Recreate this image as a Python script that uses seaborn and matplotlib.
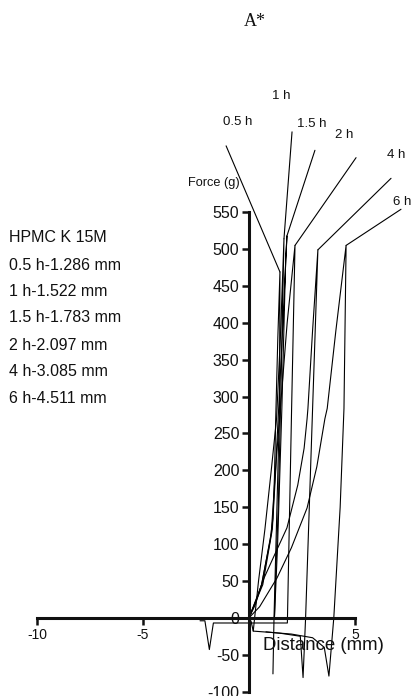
import matplotlib
matplotlib.use('Agg')
import matplotlib.pyplot as plt
import seaborn as sns

# Force (g) vs distance (mm) traces
curve_names = ['0.5 h', '1 h', '1.5 h', '2 h', '4 h', '6 h']
legend_title = 'HPMC K 15M'
legend_lines = ['0.5 h-1.286 mm', '1 h-1.522 mm', '1.5 h-1.783 mm',
                '2 h-2.097 mm', '4 h-3.085 mm', '6 h-4.511 mm']

# full path of each trace: rise to peak, then drop and return
x_05 = [0, 0.3, 0.59, 1.0, 1.13, 1.2, 1.26, 1.36, 1.46, 1.44, 1.3, 1.18, 1.13]
y_05 = [0, 18, 45, 105, 135, 190, 270, 380, 469, 284, 130, 0, -76]

x_1 = [0.2, 0.45, 0.75, 1.05, 1.3, 1.48, 1.65, 1.5, 1.38, 1.25, 1.2]
y_1 = [-18, 50, 120, 200, 270, 380, 514, 300, 150, 50, 0]

x_15 = [0, 0.6, 1.05, 1.25, 1.4, 1.6, 1.79, 1.73, 1.55, 1.35, 1.2]
y_15 = [0, 45, 115, 200, 284, 400, 518, 486, 284, 100, 0]

x_2 = [0, 0.65, 1.1, 1.3, 1.48, 1.8, 2.17, 2.01, 1.81, -1.68, -1.87, -2.08, -2.31]
y_2 = [0, 45, 120, 220, 284, 400, 505, 284, -7, -7, -43, -4, -4]

x_4 = [0, 0.35, 0.71, 1.2, 1.79, 2.3, 2.6, 2.74, 2.78, 3.0, 3.25,
       3.0, 2.67, 2.55, 2.42, 1.5, 0.8]
y_4 = [0, 25, 54, 85, 122, 180, 230, 270, 284, 390, 499,
       284, 0, -81, -25, -21, -19]

x_6 = [0, 0.5, 1.32, 2.0, 2.74, 3.2, 3.58, 3.69, 4.1, 4.58,
       4.48, 4.3, 4.0, 3.77, 3.55, 3.0, 2.0, 1.13, 0.2, 0.1, 0]
y_6 = [0, 15, 54, 95, 149, 205, 270, 284, 390, 505,
       284, 150, 0, -79, -40, -27, -22, -20, -18, -5, 0]

traces_x = [x_05, x_1, x_15, x_2, x_4, x_6]
traces_y = [y_05, y_1, y_15, y_2, y_4, y_6]

# leader lines from each peak to its label
peak_x = [1.46, 1.65, 1.79, 2.17, 3.25, 4.58]
peak_y = [469, 514, 518, 505, 499, 505]
tip_x = [-1.08, 2.03, 3.11, 5.05, 6.70, 7.17]
tip_y = [640, 659, 634, 624, 596, 554]
label_x = [-0.54, 1.51, 2.97, 4.5, 6.96, 7.24]
label_y = [672, 708, 670, 655, 627, 564]

y_ticks = list(range(-100, 551, 50))
x_ticks = [-10, -5, 5]

sns.set_theme(style='white')
plt.rcParams['font.family'] = ['Liberation Sans', 'DejaVu Sans']

fig = plt.figure(figsize=(4.13, 6.96), dpi=100)
ax = fig.add_axes([0, 0, 1, 1])
ax.set_facecolor('white')

for xs, ys in zip(traces_x, traces_y):
    sns.lineplot(x=xs, y=ys, sort=False, estimator=None, color='black',
                 lw=0.8, ax=ax)

for i in range(len(curve_names)):
    sns.lineplot(x=[peak_x[i], tip_x[i]], y=[peak_y[i], tip_y[i]], sort=False,
                 estimator=None, color='black', lw=0.8, ax=ax)
    ax.text(label_x[i], label_y[i], curve_names[i], fontsize=9.5,
            ha='center', va='center', color='#111111')

ax.set_xlim(-11.745, 7.736)
ax.set_ylim(-106, 837.8)

for side in ['top', 'right']:
    ax.spines[side].set_visible(False)
ax.spines['left'].set_position(('data', 0))
ax.spines['bottom'].set_position(('data', 0))
ax.spines['left'].set_bounds(-100, 550)
ax.spines['bottom'].set_bounds(-10, 5)
for side in ['left', 'bottom']:
    ax.spines[side].set_linewidth(2.2)
    ax.spines[side].set_color('#111111')

ax.set_yticks(y_ticks)
ax.set_yticklabels([str(v) for v in y_ticks], fontsize=11.5)
ax.set_xticks(x_ticks)
ax.set_xticklabels([str(v) for v in x_ticks], fontsize=10)
ax.tick_params(axis='both', direction='out', length=5, width=1.8,
               color='#111111', labelcolor='#111111', pad=2,
               left=True, bottom=True)
ax.set_xlabel('')
ax.set_ylabel('')

ax.text(-0.45, 590, 'Force (g)', fontsize=9.2, ha='right', va='center',
        color='#111111')
ax.text(3.49, -38, 'Distance (mm)', fontsize=13.4, ha='center', va='center',
        color='#111111')

# legend-like text block on the left
block_y = [238, 265, 292, 318, 345, 372, 398]
for text, py in zip([legend_title] + legend_lines, block_y):
    fig.text(9 / 413, 1 - py / 696, text, fontsize=11.5, ha='left',
             va='center', color='#111111')

fig.text(255 / 413, 1 - 22 / 696, 'A*', family='Liberation Serif',
         fontsize=13, ha='center', va='center', color='#111111')

fig.savefig('out.png', dpi=100)
plt.close(fig)
